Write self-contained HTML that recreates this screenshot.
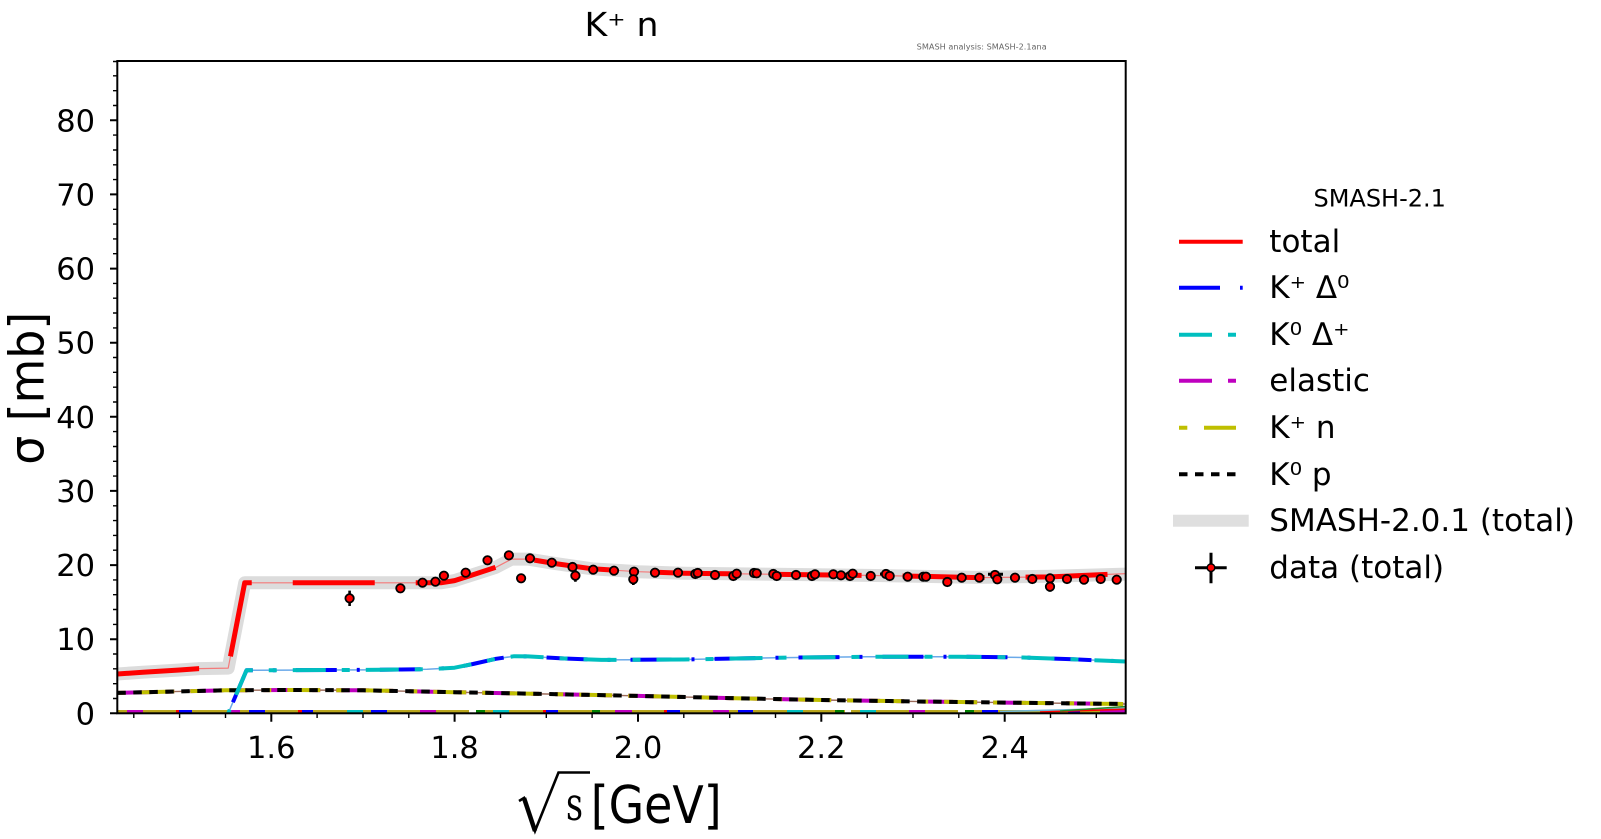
<!DOCTYPE html>
<html><head><meta charset="utf-8"><style>
html,body{margin:0;padding:0;background:#fff;}
svg{display:block;}
</style></head><body>
<svg width="1601" height="839" viewBox="0 0 1601 839" xmlns="http://www.w3.org/2000/svg" font-family="'DejaVu Sans','Liberation Sans',sans-serif">
<rect x="0" y="0" width="1601" height="839" fill="#fff"/>

<!-- title -->
<text x="621.5" y="36" font-size="33" text-anchor="middle" fill="#000" textLength="74" lengthAdjust="spacingAndGlyphs">K⁺ n</text>
<text x="916.7" y="49.5" font-size="8" fill="#666" textLength="130" lengthAdjust="spacingAndGlyphs">SMASH analysis: SMASH-2.1ana</text>

<defs><clipPath id="pc"><rect x="117.3" y="61" width="1008.4" height="652.3"/></clipPath></defs>

<g clip-path="url(#pc)" fill="none" stroke-linejoin="round">
  <!-- SMASH-2.0.1 grey band -->
  <path d="M110,674.4 L117.3,674.0 L143.0,672.2 L179.6,670.0 L199,668.6 L228.2,668.1 L244.7,582.8 L440.9,582.8 L454.6,580.6 L473.0,574.7 L495.9,567.3 L511.5,559.1 L528.0,559.1 L555.5,563.6 L592.1,568.8 L638.0,571.7 L683.8,573.2 L775.5,574.3 L867.2,575.4 L931.3,576.5 L977.2,577.4 L1050.5,576.2 L1130,574" stroke="#dcdcdc" stroke-width="13"/>

  <!-- zero line channels -->
  <path d="M117.3,711.5 H469 M476,711.5 H845 M851,711.5 H958 M965,711.5 H1125.7" stroke="#b9a61c" stroke-width="3"/>
  <g stroke-width="3">
    <path d="M127,711.5 H143 M229,711.5 H240 M420,711.5 H436 M615,711.5 H632 M713,711.5 H729 M909,711.5 H925 M1100,711 H1126" stroke="#bf00bf"/>
    <path d="M179,711.5 H192 M249,711.5 H265 M302,711.5 H313 M371,711.5 H387 M546,711.5 H558 M667,711.5 H680 M738,711.5 H753 M982,711.5 H998 M1068,711 H1080" stroke="#0000ff"/>
    <path d="M176,711.5 H179 M298,711.5 H302 M543,711.5 H546 M664,711.5 H667" stroke="#ff0000"/>
    <path d="M347,711.5 H363 M493,711.5 H509 M787,711.5 H803 M860,711.5 H876" stroke="#00bfbf"/>
    <path d="M476,711.5 H485 M592,711.5 H600 M835,711.5 H844 M965,711.5 H974" stroke="#008000"/>
  </g>
  <path d="M1000,711.5 L1125.7,708.3" stroke="#6fb6d6" stroke-width="1.6"/>
  <path d="M1040,712 L1125.7,709.2" stroke="#ff0000" stroke-width="1.6"/>
  <path d="M1060,711 L1125.7,706.5" stroke="#2a8a2a" stroke-width="1.6"/>

  <!-- K0 p / K+ n / elastic -->
  <path d="M117.3,692.9 L179.6,691.4 L225.5,690.3 L289.6,690.0 L363.0,690.3 L454.6,692.2 L546.3,694.0 L638.0,695.9 L729.7,698.1 L821.3,700.0 L913.0,701.4 L1004.7,702.6 L1125.7,704.0" stroke="#9b6b5a" stroke-width="1.4"/>
  <path d="M117.3,692.9 L179.6,691.4 L225.5,690.3 L289.6,690.0 L363.0,690.3 L454.6,692.2 L546.3,694.0 L638.0,695.9 L729.7,698.1 L821.3,700.0 L913.0,701.4 L1004.7,702.6 L1125.7,704.0" stroke="#bf00bf" stroke-width="4" stroke-dasharray="33 16 8 16"/>
  <path d="M117.3,692.9 L179.6,691.4 L225.5,690.3 L289.6,690.0 L363.0,690.3 L454.6,692.2 L546.3,694.0 L638.0,695.9 L729.7,698.1 L821.3,700.0 L913.0,701.4 L1004.7,702.6 L1125.7,704.0" stroke="#bfbf00" stroke-width="4" stroke-dasharray="8 16 33 16"/>
  <path d="M117.3,692.9 L179.6,691.4 L225.5,690.3 L289.6,690.0 L363.0,690.3 L454.6,692.2 L546.3,694.0 L638.0,695.9 L729.7,698.1 L821.3,700.0 L913.0,701.4 L1004.7,702.6 L1125.7,704.0" stroke="#000" stroke-width="4" stroke-dasharray="8.5 7.5"/>

  <!-- K Delta -->
  <path d="M228.2,713.3 L246.5,670.3 L363.0,669.9 L427.2,669.2 L454.6,667.7 L473.0,664.0 L495.9,658.8 L514.2,656.2 L528.0,656.4 L564.6,658.5 L601.3,659.9 L683.8,659.5 L775.5,657.8 L867.2,656.8 L958.9,656.7 L1023.0,657.5 L1073,659.3 L1125.7,661.5" stroke="#6aa9e9" stroke-width="1.5"/>
  <path d="M228.2,713.3 L246.5,670.3 L363.0,669.9 L427.2,669.2 L454.6,667.7 L473.0,664.0 L495.9,658.8 L514.2,656.2 L528.0,656.4 L564.6,658.5 L601.3,659.9 L683.8,659.5 L775.5,657.8 L867.2,656.8 L958.9,656.7 L1023.0,657.5 L1073,659.3 L1125.7,661.5" stroke="#0000ff" stroke-width="4" stroke-dasharray="41 20 3 20" stroke-dashoffset="-12"/>
  <path d="M228.2,713.3 L246.5,670.3 L363.0,669.9 L427.2,669.2 L454.6,667.7 L473.0,664.0 L495.9,658.8 L514.2,656.2 L528.0,656.4 L564.6,658.5 L601.3,659.9 L683.8,659.5 L775.5,657.8 L867.2,656.8 L958.9,656.7 L1023.0,657.5 L1073,659.3 L1125.7,661.5" stroke="#00bfbf" stroke-width="4" stroke-dasharray="33 16 8 16" stroke-dashoffset="-20"/>

  <!-- total -->
  <path d="M117.3,674.0 L143.0,672.2 L179.6,670.0 L199,668.6 L228.2,668.1 L244.7,582.8 L440.9,582.8 L454.6,580.6 L473.0,574.7 L495.9,567.3 L511.5,559.1 L528.0,559.1 L555.5,563.6 L592.1,568.8 L638.0,571.7 L683.8,573.2 L775.5,574.3 L867.2,575.4 L931.3,576.5 L977.2,577.6 L1050.5,576.9 L1125.7,573.6" stroke="#f47a7a" stroke-width="1.2"/>
  <path d="M117.3,674.0 L143.0,672.2 L179.6,670.0 L199,668.6 L228.2,668.1 L244.7,582.8 L440.9,582.8 L454.6,580.6 L473.0,574.7 L495.9,567.3 L511.5,559.1 L528.0,559.1 L555.5,563.6 L592.1,568.8 L638.0,571.7 L683.8,573.2 L775.5,574.3 L867.2,575.4 L931.3,576.5 L977.2,577.6 L1050.5,576.9 L1125.7,573.6" stroke="#ff0000" stroke-width="5" stroke-dasharray="82 41"/>

  <!-- error bars -->
  <g stroke="#000" stroke-width="2.6">
    <path d="M349.6,590.6 V606 M521.1,573.6 V583 M575.4,569.7 V581.7 M633.3,574.3 V585 M733.3,572 V580 M947.3,578 V586 M1050,581.7 V591.7"/>
    <path d="M880,574 H893 M988,574.3 H1003" stroke-width="3"/>
  </g>
  <!-- data points -->
  <g fill="#ff0000" stroke="#000" stroke-width="1.8">
    <circle cx="349.6" cy="598.3" r="4.2"/><circle cx="400.4" cy="588.3" r="4.2"/><circle cx="422.5" cy="582.7" r="4.2"/><circle cx="435.4" cy="581.7" r="4.2"/><circle cx="443.9" cy="575.7" r="4.2"/><circle cx="465.7" cy="572.7" r="4.2"/><circle cx="487.5" cy="560.3" r="4.2"/><circle cx="508.9" cy="555.3" r="4.2"/><circle cx="521.1" cy="578.3" r="4.2"/><circle cx="530" cy="558.3" r="4.2"/><circle cx="551.8" cy="562.7" r="4.2"/><circle cx="572.5" cy="567" r="4.2"/><circle cx="575.4" cy="575.7" r="4.2"/><circle cx="593.2" cy="569.7" r="4.2"/><circle cx="614" cy="570.7" r="4.2"/>
    <circle cx="634" cy="571.7" r="4.2"/><circle cx="633.3" cy="579.3" r="4.2"/><circle cx="655" cy="572.7" r="4.2"/><circle cx="678" cy="572.7" r="4.2"/><circle cx="695.3" cy="574" r="4.2"/><circle cx="697.7" cy="573" r="4.2"/><circle cx="715" cy="575" r="4.2"/><circle cx="733.3" cy="576" r="4.2"/><circle cx="736.7" cy="573.7" r="4.2"/><circle cx="754" cy="573" r="4.2"/><circle cx="756.7" cy="573.3" r="4.2"/><circle cx="773.3" cy="574" r="4.2"/><circle cx="776.7" cy="576" r="4.2"/><circle cx="796" cy="575" r="4.2"/><circle cx="812" cy="576" r="4.2"/><circle cx="815" cy="574.3" r="4.2"/><circle cx="833.3" cy="574.3" r="4.2"/><circle cx="841" cy="575.3" r="4.2"/><circle cx="850" cy="576" r="4.2"/><circle cx="852.7" cy="573.7" r="4.2"/><circle cx="870.7" cy="576" r="4.2"/><circle cx="886" cy="574" r="4.2"/><circle cx="889.7" cy="576" r="4.2"/><circle cx="907.7" cy="576.7" r="4.2"/><circle cx="923.3" cy="576.7" r="4.2"/><circle cx="926" cy="576.7" r="4.2"/><circle cx="947.3" cy="582" r="4.2"/><circle cx="961.7" cy="577.7" r="4.2"/><circle cx="979.3" cy="577.7" r="4.2"/><circle cx="995" cy="575" r="4.2"/><circle cx="997.3" cy="579.3" r="4.2"/><circle cx="1015" cy="577.7" r="4.2"/><circle cx="1032.3" cy="579" r="4.2"/><circle cx="1050" cy="578.3" r="4.2"/><circle cx="1050" cy="586.7" r="4.2"/><circle cx="1067" cy="579" r="4.2"/><circle cx="1084" cy="579.7" r="4.2"/><circle cx="1100.7" cy="579" r="4.2"/><circle cx="1116.7" cy="579.7" r="4.2"/>
  </g>
</g>

<!-- axes frame -->
<rect x="117.3" y="61" width="1008.4" height="652.3" fill="none" stroke="#000" stroke-width="2"/>

<!-- y ticks -->
<path d="M110,713.3 H117.3 M110,639.2 H117.3 M110,565.1 H117.3 M110,490.9 H117.3 M110,416.8 H117.3 M110,342.7 H117.3 M110,268.6 H117.3 M110,194.4 H117.3 M110,120.3 H117.3" stroke="#000" stroke-width="2"/>
<path d="M113,698.5 H117 M113,683.7 H117 M113,668.8 H117 M113,654.0 H117 M113,624.4 H117 M113,609.5 H117 M113,594.7 H117 M113,579.9 H117 M113,550.2 H117 M113,535.4 H117 M113,520.6 H117 M113,505.8 H117 M113,476.1 H117 M113,461.3 H117 M113,446.5 H117 M113,431.6 H117 M113,402.0 H117 M113,387.2 H117 M113,372.3 H117 M113,357.5 H117 M113,327.9 H117 M113,313.0 H117 M113,298.2 H117 M113,283.4 H117 M113,253.7 H117 M113,238.9 H117 M113,224.1 H117 M113,209.3 H117 M113,179.6 H117 M113,164.8 H117 M113,150.0 H117 M113,135.1 H117 M113,105.5 H117 M113,90.7 H117 M113,75.8 H117 M113,61.5 H117" stroke="#000" stroke-width="1.4"/>
<g font-size="30.5" text-anchor="end" fill="#000">
  <text x="95" y="724.3">0</text><text x="95" y="650.2">10</text><text x="95" y="576.1">20</text><text x="95" y="501.9">30</text><text x="95" y="427.8">40</text><text x="95" y="353.7">50</text><text x="95" y="279.6">60</text><text x="95" y="205.4">70</text><text x="95" y="131.3">80</text>
</g>

<!-- x ticks -->
<path d="M271.3,713.3 V721.8 M454.6,713.3 V721.8 M638.0,713.3 V721.8 M821.3,713.3 V721.8 M1004.7,713.3 V721.8" stroke="#000" stroke-width="2"/>
<path d="M133.8,713.3 V718 M179.6,713.3 V718 M225.5,713.3 V718 M317.1,713.3 V718 M363.0,713.3 V718 M408.8,713.3 V718 M500.5,713.3 V718 M546.3,713.3 V718 M592.1,713.3 V718 M683.8,713.3 V718 M729.7,713.3 V718 M775.5,713.3 V718 M867.2,713.3 V718 M913.0,713.3 V718 M958.8,713.3 V718 M1050.5,713.3 V718 M1096.3,713.3 V718" stroke="#000" stroke-width="1.4"/>
<g font-size="30.5" text-anchor="middle" fill="#000">
  <text x="271.3" y="758">1.6</text><text x="454.6" y="758">1.8</text><text x="638.0" y="758">2.0</text><text x="821.3" y="758">2.2</text><text x="1004.7" y="758">2.4</text>
</g>

<!-- x label -->
<path d="M519,801 L524,798 L535,831 L558.5,772.5 L590,772.5" fill="none" stroke="#000" stroke-width="2.6" stroke-linejoin="miter"/>
<path d="M524,798 L535,831" stroke="#000" stroke-width="4.5"/>
<text x="566" y="820" font-family="'DejaVu Serif','Liberation Serif',serif" font-size="46" textLength="17" lengthAdjust="spacingAndGlyphs">s</text>
<text x="590.7" y="823" font-size="52" textLength="131" lengthAdjust="spacingAndGlyphs">[GeV]</text>

<!-- y label -->
<text transform="translate(43.3,388.3) rotate(-90)" text-anchor="middle" font-size="48" textLength="153" lengthAdjust="spacingAndGlyphs">σ [mb]</text>

<!-- legend -->
<text x="1379.7" y="206.7" font-size="24" text-anchor="middle">SMASH-2.1</text>
<g stroke-width="4" fill="none">
  <path d="M1179,241.7 H1242.7" stroke="#ff0000"/>
  <path d="M1179,287.7 H1220 M1240,287.7 H1242.7" stroke="#0000ff"/>
  <path d="M1179,334.7 H1212 M1228,334.7 H1236" stroke="#00bfbf"/>
  <path d="M1179,380.7 H1212 M1228,380.7 H1236" stroke="#bf00bf"/>
  <path d="M1179,427.7 H1187.3 M1204,427.7 H1236" stroke="#bfbf00"/>
  <path d="M1179,474.3 H1187.5 M1195,474.3 H1203.5 M1211,474.3 H1219.5 M1227,474.3 H1235.5" stroke="#000"/>
</g>
<rect x="1173" y="514.7" width="75.7" height="12" fill="#dfdfdf"/>
<path d="M1195,567.7 H1226.7 M1211,552.7 V583.3" stroke="#000" stroke-width="3"/>
<circle cx="1211" cy="567.7" r="3.8" fill="#ff0000" stroke="#000" stroke-width="1.5"/>
<g font-size="31" fill="#000">
  <text x="1269.3" y="252.2">total</text>
  <text x="1269.3" y="298.2">K⁺ Δ⁰</text>
  <text x="1269.3" y="345.2">K⁰ Δ⁺</text>
  <text x="1269.3" y="391.2">elastic</text>
  <text x="1269.3" y="438.2">K⁺ n</text>
  <text x="1269.3" y="484.8">K⁰ p</text>
  <text x="1269.3" y="531.2">SMASH-2.0.1 (total)</text>
  <text x="1269.3" y="578.2">data (total)</text>
</g>
</svg>
</body></html>
